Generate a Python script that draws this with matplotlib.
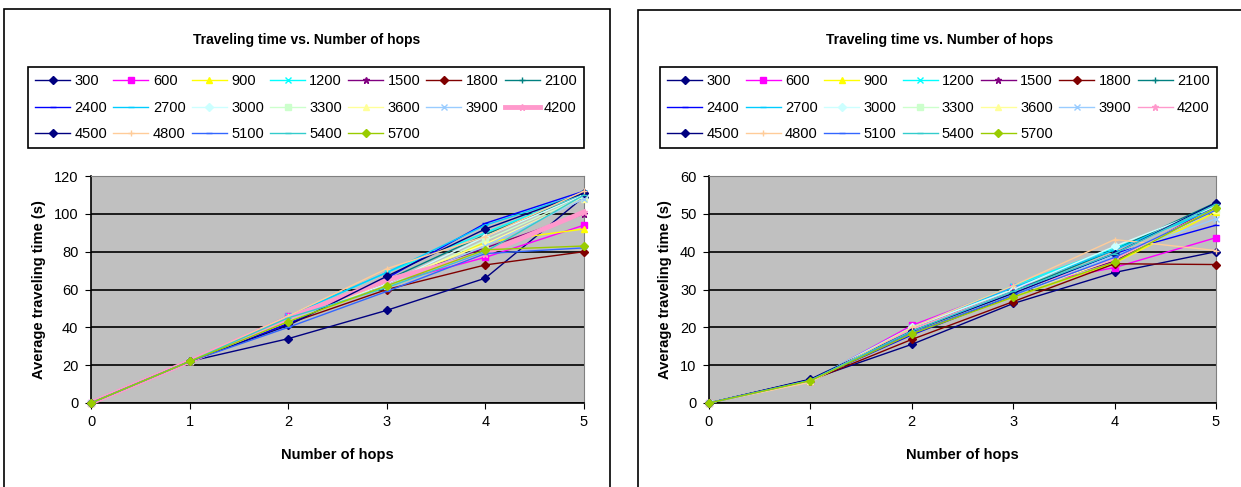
import matplotlib
matplotlib.use("Agg")
import matplotlib.pyplot as plt
from matplotlib.patches import Rectangle

plt.rcParams['font.family'] = ['Liberation Sans', 'DejaVu Sans']

hops = [0, 1, 2, 3, 4, 5]
labels = ['300', '600', '900', '1200', '1500', '1800', '2100',
          '2400', '2700', '3000', '3300', '3600', '3900', '4200',
          '4500', '4800', '5100', '5400', '5700']
colors = ['#000080', '#FF00FF', '#FFFF00', '#00FFFF', '#800080', '#800000', '#008080',
          '#0000FF', '#00CCFF', '#CCFFFF', '#CCFFCC', '#FFFF99', '#99CCFF', '#FF99CC',
          '#000080', '#FFCC99', '#3366FF', '#33CCCC', '#99CC00']
markers = ['D', 's', '^', 'x', '*', 'D', '+',
           '_', '_', 'D', 's', '^', 'x', '*',
           'D', '+', '_', '_', 'D']

# left chart: average traveling time (s), one list per series
left_vals = [
    [0, 22, 34, 49, 66, 109],   # 300
    [0, 22, 46, 63, 77, 94],    # 600
    [0, 22, 43, 62, 85, 92],    # 900
    [0, 22, 46, 69, 90, 111],   # 1200
    [0, 22, 43, 64, 82, 100],   # 1500
    [0, 22, 42, 60, 73, 80],    # 1800
    [0, 22, 45, 65, 89, 110],   # 2100
    [0, 22, 42, 66, 95, 112],   # 2400
    [0, 22, 46, 69, 94, 111],   # 2700
    [0, 22, 44, 63, 88, 110],   # 3000
    [0, 22, 44, 62, 86, 109],   # 3300
    [0, 22, 43, 64, 84, 108],   # 3600
    [0, 22, 44, 62, 83, 108],   # 3900
    [0, 22, 45, 65, 79, 101],   # 4200
    [0, 22, 41, 67, 92, 111],   # 4500
    [0, 22, 46, 71, 88, 112],   # 4800
    [0, 22, 40, 59, 79, 82],    # 5100
    [0, 22, 45, 61, 80, 110],   # 5400
    [0, 22, 43, 62, 81, 83],    # 5700
]

# right chart
right_vals = [
    [0, 6.2, 15.5, 26.3, 34.5, 40.0],   # 300
    [0, 5.8, 20.5, 30.6, 35.8, 43.7],   # 600
    [0, 5.8, 19.0, 28.0, 37.0, 50.5],   # 900
    [0, 6.0, 20.0, 31.0, 41.0, 51.0],   # 1200
    [0, 6.0, 19.0, 29.5, 37.5, 52.0],   # 1500
    [0, 5.9, 16.8, 26.8, 36.8, 36.6],   # 1800
    [0, 6.0, 19.5, 29.5, 40.5, 53.0],   # 2100
    [0, 6.0, 18.0, 28.5, 39.5, 47.0],   # 2400
    [0, 6.0, 20.0, 30.5, 40.5, 51.5],   # 2700
    [0, 6.0, 20.0, 30.0, 41.4, 52.0],   # 3000
    [0, 6.0, 19.5, 29.0, 38.5, 51.0],   # 3300
    [0, 5.7, 19.5, 28.5, 38.0, 51.0],   # 3600
    [0, 6.0, 19.0, 29.0, 39.0, 48.7],   # 3900
    [0, 6.0, 19.5, 29.5, 38.0, 51.5],   # 4200
    [0, 6.3, 19.0, 29.0, 39.5, 52.9],   # 4500
    [0, 5.5, 20.0, 31.0, 43.2, 40.3],   # 4800
    [0, 6.0, 18.5, 28.5, 38.5, 51.0],   # 5100
    [0, 6.0, 19.0, 29.5, 39.5, 52.5],   # 5400
    [0, 5.9, 18.3, 28.0, 37.2, 51.6],   # 5700
]

title = 'Traveling time vs. Number of hops'
W, H = 1241, 487


def fx(px):
    return px / W


def fy(py):
    return 1 - py / H


def draw_panel(fig, vals, box, plot, legend_box, ymax, ystep, thick_4200):
    # outer chart frame
    fig.patches.append(Rectangle((fx(box[0]), fy(box[3])), fx(box[2] - box[0]),
                                 (box[3] - box[1]) / H, transform=fig.transFigure,
                                 fill=False, edgecolor='black', linewidth=1.2))
    ax = fig.add_axes([fx(plot[0]), fy(plot[3]), fx(plot[2] - plot[0]),
                       (plot[3] - plot[1]) / H])
    ax.set_facecolor('#C0C0C0')
    handles = []
    for i, lab in enumerate(labels):
        lw = 1.0
        if lab == '4200' and thick_4200:
            lw = 3.5
        ms = 4
        if markers[i] in ('*', 'x', '+', '_'):
            ms = 5
        h, = ax.plot(hops, vals[i], color=colors[i], marker=markers[i], markersize=ms,
                     linewidth=lw, markeredgewidth=1.0, label=lab, zorder=3,
                     clip_on=False)
        handles.append(h)
    ax.set_xlim(0, 5)
    ax.set_ylim(0, ymax)
    ax.set_xticks(hops)
    ax.set_yticks(range(0, ymax + 1, ystep))
    ax.yaxis.grid(True, color='black', linewidth=1.2)
    ax.set_axisbelow(True)
    for s in ('top', 'right'):
        ax.spines[s].set_color('#808080')
    for s in ('left', 'bottom'):
        ax.spines[s].set_color('black')
        ax.spines[s].set_linewidth(1.2)
    ax.tick_params(labelsize=10.5, length=4, direction='out', pad=5)
    ax.set_xlabel('Number of hops', fontsize=10.5, fontweight='bold', labelpad=13)
    ax.set_ylabel('Average traveling time (s)', fontsize=10.5, fontweight='bold',
                  labelpad=6)
    cx = (box[0] + min(box[2], W)) / 2
    fig.text(fx(cx), fy(40), title, ha='center', va='center', fontsize=10,
             fontweight='bold')
    # row-major legend order for 7 columns
    order = []
    for c in range(7):
        for r in range(3):
            k = r * 7 + c
            if k < len(labels):
                order.append(k)
    leg = fig.legend([handles[k] for k in order], [labels[k] for k in order],
                     ncol=7, loc='upper left', mode='expand',
                     bbox_to_anchor=(fx(legend_box[0]), fy(legend_box[3]),
                                     fx(legend_box[2] - legend_box[0]),
                                     (legend_box[3] - legend_box[1]) / H),
                     bbox_transform=fig.transFigure, borderaxespad=0,
                     fontsize=10.5, handlelength=2.4, handletextpad=0.3,
                     columnspacing=0.6, labelspacing=0.85, borderpad=0.5,
                     fancybox=False, framealpha=1, edgecolor='black')
    leg.get_frame().set_linewidth(1.2)
    return ax


fig = plt.figure(figsize=(W / 100, H / 100), dpi=100)
draw_panel(fig, left_vals, (4, 9, 610, 500), (91, 176, 584, 403),
           (28, 67, 584, 146), 120, 20, True)
draw_panel(fig, right_vals, (638, 10, 1260, 500), (709, 176, 1216, 403),
           (660, 67, 1217, 146), 60, 10, False)
fig.savefig('out.png', dpi=100)
